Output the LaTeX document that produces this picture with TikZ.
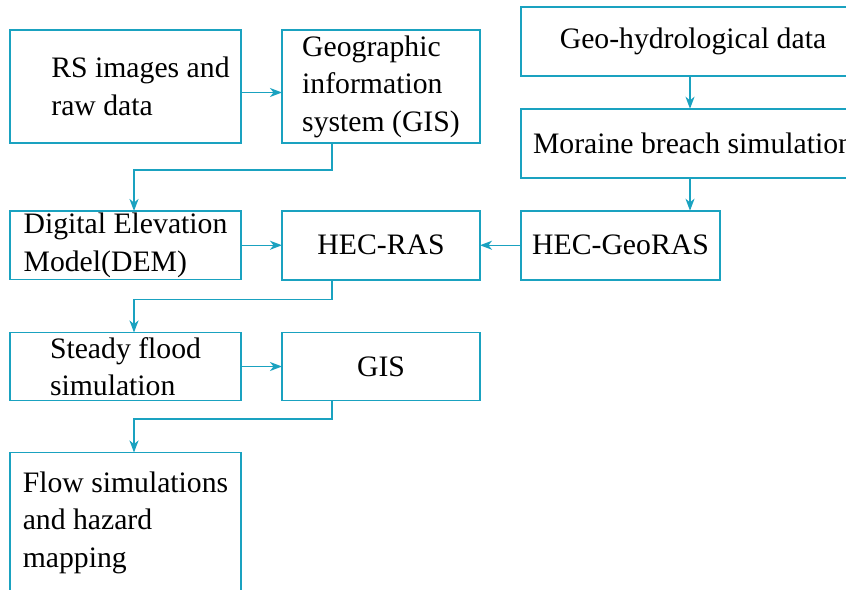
\documentclass[tikz,border=0pt]{standalone}
\usepackage{fontspec}
\setmainfont{Liberation Serif}
\usepackage{xcolor}
\usepackage{tikz}
\usetikzlibrary{positioning, arrows.meta}

\definecolor{flowcyan}{RGB}{26,162,192}

\begin{document}
\begin{tikzpicture}[
    box/.style={draw=flowcyan, line width=1.3pt, align=left, inner sep=0pt, outer sep=0pt,
        font=\fontsize{29.7}{37.5}\selectfont},
    boldbox/.style={box, line width=2pt, align=center},
    arr/.style={draw=flowcyan, line width=1.5pt, -{Stealth[length=12pt, width=9pt, inset=3.5pt]}}
    ]
        \useasboundingbox (0,0) rectangle (846pt,-589pt);
        \clip (0,0) rectangle (846pt,-589pt);

        \node (rs) [box, minimum width=231pt, minimum height=113pt, anchor=north west] at (10pt,-30pt) {\hspace*{30pt}RS images and\\\hspace*{30pt}raw data};
        \node (gisa) [box, minimum width=198pt, minimum height=113pt, right=41pt of rs] {Geographic\\information\\system (GIS)};

        \node (dem) [box, minimum width=231pt, minimum height=68.5pt, below=68pt of rs] {Digital Elevation\\Model(DEM)};
        \node (hecras) [boldbox, minimum width=198pt, minimum height=69pt, right=41pt of dem] {HEC-RAS};
        \node (georas) [boldbox, minimum width=199pt, minimum height=69pt, right=41pt of hecras] {HEC-GeoRAS};

        \node (moraine) [boldbox, minimum width=344pt, minimum height=69pt, above=33pt of georas.north west, anchor=south west] {Moraine breach simulation};
        \node (geohydro) [boldbox, minimum width=344pt, minimum height=69pt, above=33pt of moraine] {Geo-hydrological data};

        \node (steady) [box, minimum width=231pt, minimum height=68pt, below=53pt of dem] {Steady flood\\simulation};
        \node (gis) [box, minimum width=198pt, minimum height=68pt, right=41pt of steady] {GIS};

        \node (flow) [box, minimum width=231pt, minimum height=140pt, below=52pt of steady] {Flow simulations\\and hazard\\mapping};

        % Lines
        \draw [arr] ([yshift=-6pt]rs.east) -- ([yshift=-6pt]gisa.west);
        \draw [arr] ([xshift=-49pt]gisa.south) -- ++(0,-27pt) -| ([xshift=8.5pt]dem.north);
        \draw [arr] ([xshift=-3pt]geohydro.south) -- ([xshift=-3pt]moraine.north);
        \draw [arr] ([xshift=-3pt]moraine.south) -- ([xshift=-3pt]moraine.south |- georas.north);
        \draw [arr] (dem) -- (hecras);
        \draw [arr] (georas) -- (hecras);
        \draw [arr] ([xshift=-49pt]hecras.south) -- ++(0,-19.5pt) -| ([xshift=8.5pt]steady.north);
        \draw [arr] (steady) -- (gis);
        \draw [arr] ([xshift=-49pt]gis.south) -- ++(0,-18.5pt) -| ([xshift=8.5pt]flow.north);

    \end{tikzpicture}
\end{document}
